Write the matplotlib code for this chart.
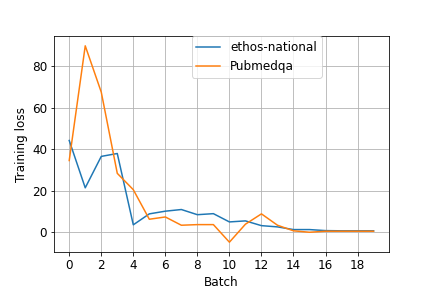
import matplotlib
matplotlib.use("Agg")
import matplotlib.pyplot as plt

batch = list(range(20))
ethos = [44.2, 21.3, 36.5, 37.9, 3.4, 8.7, 10.0, 10.8, 8.3, 8.8,
         4.8, 5.3, 3.0, 2.4, 1.1, 1.1, 0.6, 0.5, 0.5, 0.5]
pubmed = [34.5, 90.0, 67.6, 28.3, 20.4, 6.1, 7.2, 3.2, 3.5, 3.5,
          -5.0, 3.7, 8.7, 3.2, 0.5, -0.2, 0.3, 0.3, 0.3, 0.3]

plt.rcParams['font.size'] = 12
fig, ax = plt.subplots(figsize=(6, 4), dpi=72)
fig.subplots_adjust(left=0.125, right=0.9, bottom=0.125, top=0.875)
ax.plot(batch, ethos, label='ethos-national')
ax.plot(batch, pubmed, label='Pubmedqa')
ax.set_xticks(range(0, 20, 2))
ax.set_xlabel('Batch')
ax.set_ylabel('Training loss')
ax.grid()
ax.legend(loc='upper center', bbox_to_anchor=(0.605, 1.0), borderaxespad=0)
fig.savefig('out.png')
